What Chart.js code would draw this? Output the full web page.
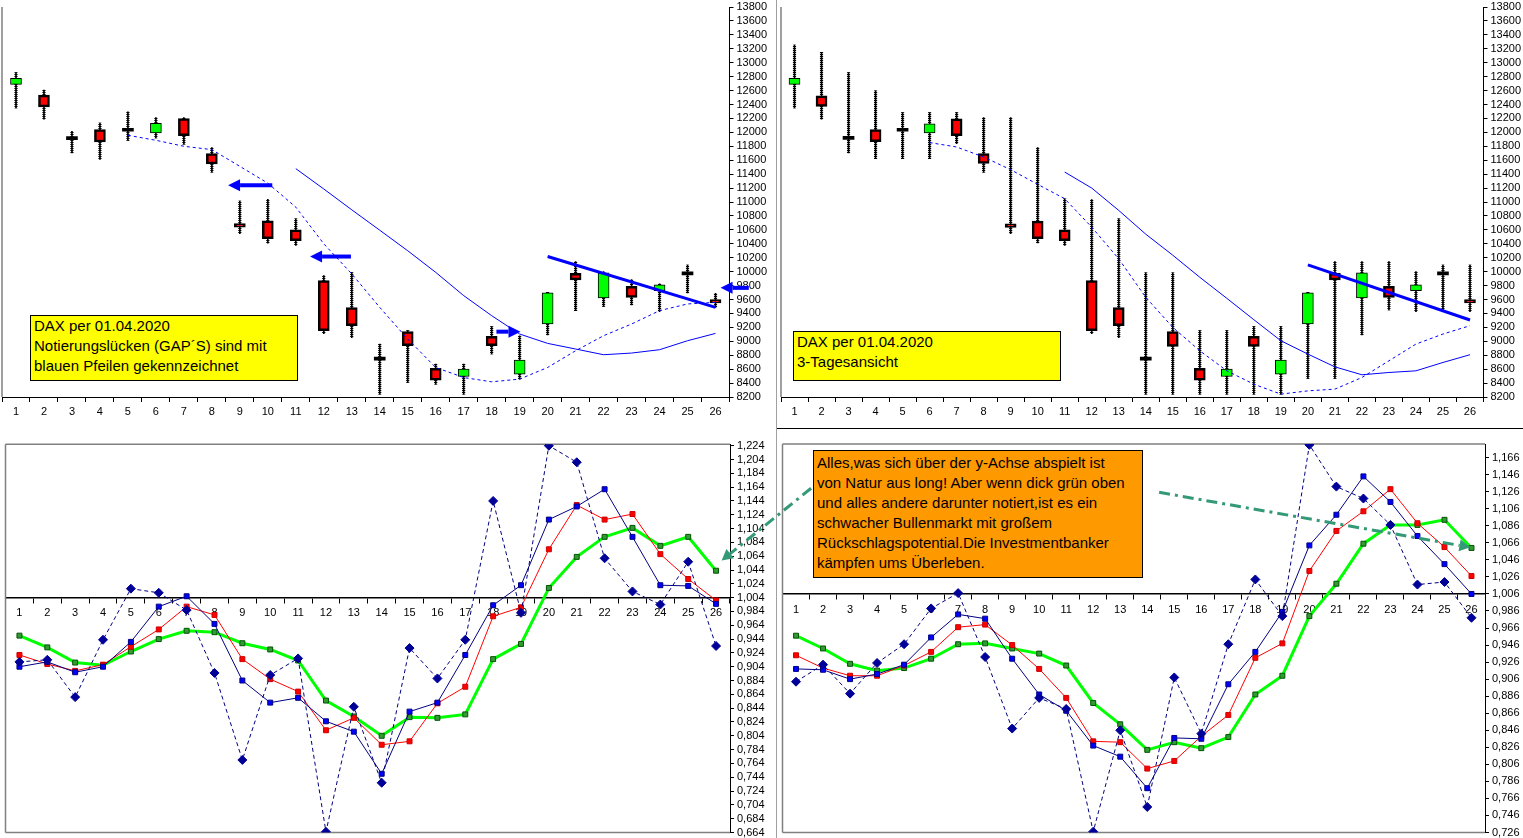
<!DOCTYPE html>
<html>
<head>
<meta charset="utf-8">
<script src="https://cdn.jsdelivr.net/npm/chart.js@4.4.1/dist/chart.umd.min.js"></script>
<style>
  body { margin: 0; background: #fff; width: 1523px; height: 838px; overflow: hidden; position: relative; }
  canvas { position: absolute; }
  .note { position: absolute; box-sizing: border-box; border: 1px solid #000; color: #000;
          font: 15px/20px "Liberation Sans", Arial, sans-serif; padding: 0 3px; white-space: nowrap; z-index: 5; }
  .sep { position: absolute; }
</style>
</head>
<body>
<canvas id="tl" width="777" height="428" style="left:0;top:0"></canvas>
<canvas id="tr" width="746" height="428" style="left:777px;top:0"></canvas>
<canvas id="bl" width="830" height="410" style="left:0;top:428px"></canvas>
<canvas id="br" width="746" height="410" style="left:777px;top:428px"></canvas>

<div class="sep" style="left:776px;top:0;width:1px;height:838px;background:#a0a0a0"></div>
<div class="sep" style="left:777px;top:428px;width:746px;height:1px;background:#000"></div>

<div class="note" style="left:30px;top:315px;width:268px;height:66px;background:#ffff00">DAX per 01.04.2020<br>Notierungslücken (GAP´S) sind mit<br>blauen Pfeilen gekennzeichnet</div>
<div class="note" style="left:793px;top:331px;width:268px;height:50px;background:#ffff00">DAX per 01.04.2020<br>3-Tagesansicht</div>
<div class="note" style="left:813px;top:450px;width:330px;height:128px;padding-top:2px;background:#ff9900">Alles,was sich über der y-Achse abspielt ist<br>von Natur aus long! Aber wenn dick grün oben<br>und alles andere darunter notiert,ist es ein<br>schwacher Bullenmarkt mit großem<br>Rückschlagspotential.Die Investmentbanker<br>kämpfen ums Überleben.</div>

<script>
// categories (trading days)
const days = ['1','2','3','4','5','6','7','8','9','10','11','12','13','14','15','16','17','18','19','20','21','22','23','24','25','26'];

// daily candles (top left)
const tlOpen  = [12688,12534,11900,12040,12020,11991,12198,11695,10690,10731,10601,9871,9483,8735,9138,8610,8494,9070,8529,9249,9977,9622,9790,9728,9957,9598];
const tlClose = [12774,12365,11896,11862,12016,12131,11954,11545,10640,10472,10443,9152,9224,8730,8936,8443,8601,8936,8730,9695,9881,9982,9631,9810,9953,9550];
const tlHigh  = [12860,12606,12016,12135,12293,12213,12213,11781,11013,11037,10759,9943,9987,8961,9152,8673,8673,9210,9080,9703,10145,10001,9886,9824,10096,9690];
const tlLow   = [12351,12188,11703,11613,11886,11919,11829,11430,10544,10408,10375,9109,9051,8241,8408,8385,8241,8817,8457,9090,9440,9502,9521,9426,9695,9487];
const tlShort = [null,null,null,null,11958,11886,11800,11752,11512,11270,10926,10400,9968,9487,9032,8624,8480,8418,8457,8624,8864,9080,9248,9440,9536,9559];
const tlLong  = [null,null,null,null,null,null,null,null,null,null,11479,11187,10888,10595,10300,9990,9656,9368,9104,8970,8889,8807,8831,8879,9008,9113];
const tlTrend = [null,null,null,null,null,null,null,null,null,null,null,null,null,null,null,null,null,null,null,10217,null,null,null,null,null,9487];

// 3-day candles (top right)
const trOpen  = [12688,12524,11904,12040,12020,11991,12193,11695,10687,10726,10601,9871,9483,8735,9138,8610,8494,9070,8529,9249,9977,9622,9790,9728,9957,9598];
const trClose = [12774,12371,11900,11867,12016,12121,11954,11555,10635,10472,10443,9152,9224,8730,8927,8443,8601,8927,8730,9695,9881,9982,9631,9810,9953,9550];
const trHigh  = [13253,13148,12860,12596,12285,12285,12285,12213,12213,11781,11047,11033,10759,9982,9982,9152,9152,9210,9210,9703,10145,10145,10145,10001,10096,10096];
const trLow   = [12351,12188,11703,11622,11622,11622,11839,11430,10544,10414,10375,9109,9051,8241,8241,8241,8241,8241,8241,8466,8466,9090,9450,9426,9426,9426];
const trShort = [null,null,null,null,null,11853,11790,11646,11464,11253,11047,10639,10184,9631,9200,8864,8576,8384,8241,8288,8313,8480,8720,8960,9104,9224];
const trLong  = [null,null,null,null,null,null,null,null,null,null,11430,11200,10879,10538,10236,9919,9617,9310,9008,8816,8633,8519,8552,8576,8696,8807];
const trTrend = [null,null,null,null,null,null,null,null,null,null,null,null,null,null,null,null,null,null,null,10097,null,null,null,null,null,9306];

// ratio lines (bottom left)
const blGreen   = [0.949,0.932,0.910,0.906,0.926,0.944,0.956,0.954,0.938,0.929,0.913,0.855,0.832,0.804,0.831,0.830,0.835,0.915,0.937,1.018,1.063,1.092,1.105,1.079,1.092,1.043];
const blRed     = [0.921,0.908,0.898,0.907,0.933,0.958,0.991,0.979,0.915,0.886,0.868,0.812,0.830,0.791,0.796,0.851,0.875,0.977,0.990,1.074,1.138,1.117,1.125,1.067,1.031,1.000];
const blBlue    = [0.904,0.911,0.896,0.904,0.940,0.991,1.006,0.966,0.884,0.852,0.859,0.825,0.810,0.749,0.839,0.852,0.921,0.993,1.022,1.117,1.136,1.161,1.092,1.022,1.021,0.995];
const blDiamond = [0.911,0.914,0.860,0.943,1.017,1.011,0.986,0.895,0.769,0.892,0.916,0.665,0.846,0.736,0.931,0.887,0.943,1.144,0.982,1.224,1.200,1.061,1.013,0.994,1.056,0.934];

// ratio lines (bottom right)
const brGreen   = [0.957,0.942,0.924,0.916,0.919,0.930,0.947,0.948,0.942,0.936,0.922,0.878,0.853,0.823,0.832,0.825,0.838,0.888,0.910,0.980,1.018,1.065,1.087,1.087,1.093,1.060];
const brRed     = [0.934,0.919,0.910,0.910,0.922,0.938,0.967,0.970,0.946,0.918,0.884,0.833,0.832,0.801,0.810,0.839,0.864,0.931,0.948,1.033,1.080,1.103,1.129,1.089,1.061,1.027];
const brBlue    = [0.918,0.917,0.906,0.912,0.923,0.955,0.982,0.977,0.930,0.888,0.869,0.828,0.815,0.778,0.837,0.836,0.900,0.938,0.985,1.063,1.099,1.144,1.114,1.074,1.041,1.006];
const brDiamond = [0.903,0.923,0.889,0.925,0.947,0.989,1.007,0.932,0.848,0.884,0.871,0.727,0.846,0.756,0.908,0.842,0.947,1.023,0.980,1.181,1.132,1.118,1.087,1.017,1.020,0.978];

// tick labels
const priceTicks = [8200,8400,8600,8800,9000,9200,9400,9600,9800,10000,10200,10400,10600,10800,11000,11200,11400,11600,11800,12000,12200,12400,12600,12800,13000,13200,13400,13600,13800];
const blTicks = [0.664,0.684,0.704,0.724,0.744,0.764,0.784,0.804,0.824,0.844,0.864,0.884,0.904,0.924,0.944,0.964,0.984,1.004,1.024,1.044,1.064,1.084,1.104,1.124,1.144,1.164,1.184,1.204,1.224];
const brTicks = [0.726,0.746,0.766,0.786,0.806,0.826,0.846,0.866,0.886,0.906,0.926,0.946,0.966,0.986,1.006,1.026,1.046,1.066,1.086,1.106,1.126,1.146,1.166];

// gap arrows (category index, value)
const tlGaps = [
  { from: [9.16, 11240], to: [7.58, 11240] },
  { from: [11.97, 10217], to: [10.51, 10217] },
  { from: [17.17, 9138], to: [18.03, 9138] },
  { from: [26.19, 9767], to: [25.18, 9767] },
];
const blPointer = [{ from: [28.41, 1.1624], to: [25.2, 1.0576] }];
const brPointer = [{ from: [13.44, 1.1253], to: [24.96, 1.0607] }];

Chart.defaults.font.family = '"Liberation Sans", Arial, sans-serif';
Chart.defaults.font.size = 11;
Chart.defaults.color = '#000';

const framePlugin = {
  id: 'frame',
  beforeDatasetsDraw(chart, args, opts) {
    const { ctx, chartArea: a } = chart;
    ctx.save();
    ctx.strokeStyle = '#808080';
    ctx.lineWidth = 1.5;
    ctx.beginPath();
    if (opts.left) { ctx.moveTo(a.left, a.top); ctx.lineTo(a.left, a.bottom); }
    if (opts.top) { ctx.moveTo(a.left, a.top); ctx.lineTo(a.right, a.top); }
    if (opts.bottom) { ctx.moveTo(a.left, a.bottom); ctx.lineTo(a.right, a.bottom); }
    ctx.stroke();
    ctx.restore();
  }
};

const arrowPlugin = {
  id: 'arrows',
  afterDraw(chart, args, opts) {
    if (!opts.items) return;
    const { ctx, scales: { x, y } } = chart;
    opts.items.forEach(a => {
      const x1 = x.getPixelForValue(a.from[0]), y1 = y.getPixelForValue(a.from[1]);
      const x2 = x.getPixelForValue(a.to[0]), y2 = y.getPixelForValue(a.to[1]);
      const ang = Math.atan2(y2 - y1, x2 - x1);
      const hx = x2 - Math.cos(ang) * opts.head, hy = y2 - Math.sin(ang) * opts.head;
      ctx.save();
      ctx.strokeStyle = opts.color;
      ctx.fillStyle = opts.color;
      ctx.lineWidth = opts.width;
      ctx.setLineDash(opts.dash || []);
      ctx.beginPath();
      ctx.moveTo(x1, y1);
      ctx.lineTo(hx, hy);
      ctx.stroke();
      ctx.setLineDash([]);
      ctx.beginPath();
      ctx.moveTo(x2, y2);
      ctx.lineTo(hx + Math.sin(ang) * opts.half, hy - Math.cos(ang) * opts.half);
      ctx.lineTo(hx - Math.sin(ang) * opts.half, hy + Math.cos(ang) * opts.half);
      ctx.closePath();
      ctx.fill();
      ctx.restore();
    });
  }
};

Chart.register(framePlugin, arrowPlugin);

// striped fill so the wicks look like the old ladder lines
const wickStripe = (() => {
  const c = document.createElement('canvas');
  c.width = 1; c.height = 2;
  const g = c.getContext('2d');
  g.fillStyle = '#000';
  g.fillRect(0, 0, 1, 1);
  return g.createPattern(c, 'repeat');
})();

function candleChart(id, open, close, high, low, shortMa, longMa, trend, padLeft, axisWidth, gaps) {
  const body = open.map((v, i) => [v, close[i]]);
  const wick = low.map((v, i) => [v, high[i]]);
  const fill = open.map((v, i) => Math.abs(v - close[i]) < 10 ? '#000000' : (close[i] > v ? '#00ff00' : '#ff0000'));
  const edge = open.map((v, i) => Math.abs(v - close[i]) < 10 ? 0 : (close[i] > v ? 1 : 2.5));
  return new Chart(document.getElementById(id), {
    type: 'bar',
    data: {
      labels: days,
      datasets: [
        { type: 'line', data: trend, borderColor: '#0000ff', borderWidth: 3, pointRadius: 0, spanGaps: true, order: -3 },
        { type: 'line', data: shortMa, borderColor: '#0000ff', borderWidth: 1, borderDash: [3, 3], pointRadius: 0, order: -2 },
        { type: 'line', data: longMa, borderColor: '#0000ff', borderWidth: 1, pointRadius: 0, order: -2 },
        { data: body, backgroundColor: fill, borderColor: '#000', borderWidth: edge, borderSkipped: false,
          barThickness: 11, minBarLength: 3, grouped: false, order: 0 },
        { data: wick, backgroundColor: '#000', barThickness: 1, grouped: false, order: 1 },
        { data: wick, backgroundColor: wickStripe, barThickness: 2.5, grouped: false, order: 1 },
      ]
    },
    options: {
      responsive: false,
      animation: false,
      devicePixelRatio: 1,
      events: [],
      layout: { padding: { left: padLeft, top: 7, right: 0, bottom: 0 } },
      plugins: {
        legend: { display: false },
        tooltip: { enabled: false },
        frame: { left: true },
        arrows: { items: gaps, color: '#0000ff', width: 4, head: 12, half: 6 },
      },
      scales: {
        x: {
          offset: true,
          grid: { offset: true, drawOnChartArea: false, tickLength: 5, color: '#000' },
          border: { color: '#000' },
          ticks: { autoSkip: false, maxRotation: 0, padding: 3 },
          afterFit: s => { s.height = 31; s.paddingLeft = 0; s.paddingRight = 0; },
        },
        y: {
          position: 'right',
          min: 8200,
          max: 13800,
          afterBuildTicks: s => { s.ticks = priceTicks.map(v => ({ value: v })); },
          grid: { drawOnChartArea: false, tickLength: 4, color: '#000' },
          border: { color: '#000' },
          ticks: { autoSkip: false, padding: 3, callback: v => String(v) },
          afterFit: s => { s.width = axisWidth; s.paddingTop = 0; s.paddingBottom = 0; },
        }
      }
    }
  });
}

function ratioChart(id, green, red, blue, diamond, ticks, ymin, ymax, cross, pad, axisWidth, pointer) {
  return new Chart(document.getElementById(id), {
    type: 'line',
    data: {
      labels: days,
      datasets: [
        { data: diamond, borderColor: '#000080', borderWidth: 1, borderDash: [4, 3], pointStyle: 'rectRot', pointRadius: 4.5,
          pointBackgroundColor: '#000099', pointBorderColor: '#000099', order: 0 },
        { data: blue, borderColor: '#000080', borderWidth: 1, pointStyle: 'rect', pointRadius: 3.5,
          pointBackgroundColor: '#0000ff', pointBorderColor: '#000080', pointBorderWidth: 1, order: 1 },
        { data: red, borderColor: '#ff0000', borderWidth: 1, pointStyle: 'rect', pointRadius: 3.5,
          pointBackgroundColor: '#ff0000', pointBorderColor: '#cc0000', pointBorderWidth: 1, order: 2 },
        { data: green, borderColor: '#00ff00', borderWidth: 3, pointStyle: 'rect', pointRadius: 3.5,
          pointBackgroundColor: '#339933', pointBorderColor: '#005500', pointBorderWidth: 1, order: 3 },
      ]
    },
    options: {
      responsive: false,
      animation: false,
      devicePixelRatio: 1,
      events: [],
      layout: { padding: pad },
      plugins: {
        legend: { display: false },
        tooltip: { enabled: false },
        frame: { left: true, top: true, bottom: true },
        arrows: { items: pointer, color: '#339977', width: 3, dash: [11, 5, 3, 5], head: 11, half: 6 },
      },
      scales: {
        x: {
          position: { y: cross },
          offset: true,
          grid: { offset: true, drawOnChartArea: false, tickLength: 5, color: '#000' },
          border: { color: '#000', width: 1.5 },
          ticks: { autoSkip: false, maxRotation: 0, padding: 4 },
          afterFit: s => { s.paddingLeft = 0; s.paddingRight = 0; },
        },
        y: {
          position: 'right',
          min: ymin,
          max: ymax,
          afterBuildTicks: s => { s.ticks = ticks.map(v => ({ value: v })); },
          grid: { drawOnChartArea: false, tickLength: 4, color: '#000' },
          border: { color: '#000' },
          ticks: { autoSkip: false, padding: 3, callback: v => v.toFixed(3).replace('.', ',') },
          afterFit: s => { s.width = axisWidth; s.paddingTop = 0; s.paddingBottom = 0; },
        }
      }
    }
  });
}

candleChart('tl', tlOpen, tlClose, tlHigh, tlLow, tlShort, tlLong, tlTrend, 2, 47.5, tlGaps);
candleChart('tr', trOpen, trClose, trHigh, trLow, trShort, trLong, trTrend, 4, 39.5, []);
ratioChart('bl', blGreen, blRed, blBlue, blDiamond, blTicks, 0.664, 1.226, 1.004,
  { left: 1, top: 16.3, right: 0, bottom: 5.3 }, 100, blPointer);
ratioChart('br', brGreen, brRed, brBlue, brDiamond, brTicks, 0.726, 1.182, 1.006,
  { left: 4.5, top: 16, right: 0, bottom: 2 }, 38, brPointer);
</script>
</body>
</html>
